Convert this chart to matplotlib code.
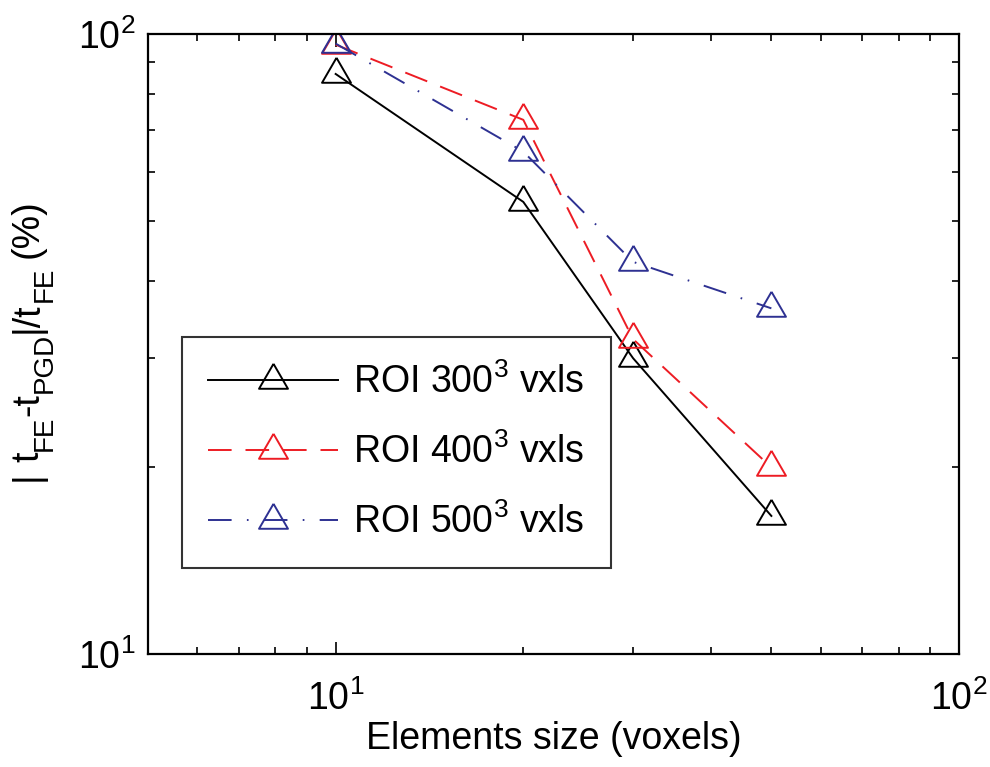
import matplotlib
matplotlib.use("Agg")
import matplotlib.pyplot as plt
from matplotlib.ticker import LogLocator, NullFormatter

# Data
element_size = [10, 20, 30, 50]
roi300 = [86.2, 53.6, 30.0, 16.7]
roi400 = [96.1, 72.7, 32.2, 20.0]
roi500 = [96.5, 64.6, 42.9, 36.1]
labels = ['ROI 300$^3$ vxls', 'ROI 400$^3$ vxls', 'ROI 500$^3$ vxls']
xlabel = 'Elements size (voxels)'
# y label pieces: (text, is_subscript, space_before)
ylabel_parts = [('|', False, 0), ('t', False, 1), ('FE', True, 0), ('-t', False, 0),
                ('PGD', True, 0), ('|/t', False, 0), ('FE', True, 0), ('(%)', False, 1)]

plt.rcParams['font.family'] = ['Liberation Sans', 'DejaVu Sans']
plt.rcParams['mathtext.default'] = 'regular'
plt.rcParams['lines.scale_dashes'] = False

FS = 27
SUB_FS = 20
W, H, DPI = 9.9, 7.67, 100
fig = plt.figure(figsize=(W, H), dpi=DPI)
ax = fig.add_axes([0.1495, 0.1473, 0.8192, 0.8084])

# triangle marker with centroid at the origin (MATLAB-like)
tri = [(0, 16.7), (-14.5, -8.3), (14.5, -8.3), (0, 16.7)]
ms = 24

black = 'black'
red = '#ed1c24'
blue = '#2e3192'
LW = 1.4

ax.plot(element_size, roi300, color=black, lw=LW, ls='-', marker=tri, ms=ms,
        mfc='none', mec=black, mew=LW, label=labels[0])
ax.plot(element_size, roi400, color=red, lw=LW, ls=(0, (17, 10)), marker=tri, ms=ms,
        mfc='none', mec=red, mew=LW, label=labels[1])
ax.plot(element_size, roi500, color=blue, lw=LW, ls=(0, (17, 11, 1.2, 11)), marker=tri, ms=ms,
        mfc='none', mec=blue, mew=LW, label=labels[2])

ax.set_xscale('log')
ax.set_yscale('log')
ax.set_xlim(5, 100)
ax.set_ylim(10, 100)

for a in (ax.xaxis, ax.yaxis):
    a.set_major_locator(LogLocator(base=10, numticks=10))
    a.set_minor_locator(LogLocator(base=10, subs=range(2, 10), numticks=10))
    a.set_minor_formatter(NullFormatter())

ax.tick_params(which='both', direction='in', top=True, right=True, width=1.2,
               labelsize=FS, colors='black')
ax.tick_params(which='major', length=9)
ax.tick_params(which='minor', length=5)
ax.tick_params(axis='x', which='major', pad=19)
ax.tick_params(axis='y', which='major', pad=9)
for s in ax.spines.values():
    s.set_linewidth(1.6)

ax.set_xlabel(xlabel, fontsize=FS, labelpad=2)

leg = ax.legend(loc='upper left', bbox_to_anchor=(0.0419, 0.511), fontsize=FS,
                frameon=True, fancybox=False, edgecolor='black', numpoints=1,
                handlelength=3.47, handletextpad=0.4, labelspacing=0.87,
                borderpad=0.7, borderaxespad=0)
leg.get_frame().set_linewidth(1.5)

# y label built from pieces so subscripts can be larger than mathtext's default
fig.canvas.draw()
renderer = fig.canvas.get_renderer()
px_per_pt = DPI / 72.0
space_px = 0.25 * FS * px_per_pt
base_x = 38.0            # main baseline (pixels from left)
sub_dx = 14.0            # subscripts shifted towards the axes
texts = []
total = 0.0
for txt, sub, sp in ylabel_parts:
    t = fig.text(0, 0, txt, rotation=90, rotation_mode='anchor', ha='left', va='baseline',
                 fontsize=SUB_FS if sub else FS)
    ext = t.get_window_extent(renderer)
    total += sp * space_px
    texts.append((t, sub, total))
    total += ext.height
center_y = 340.0   # pixels from top
start_y_from_top = center_y + total / 2.0
for t, sub, off in texts:
    x = base_x + (sub_dx if sub else 0)
    y_top = start_y_from_top - off
    t.set_position((x / (W * DPI), 1 - y_top / (H * DPI)))

fig.savefig('out.png', dpi=DPI, facecolor='white')
